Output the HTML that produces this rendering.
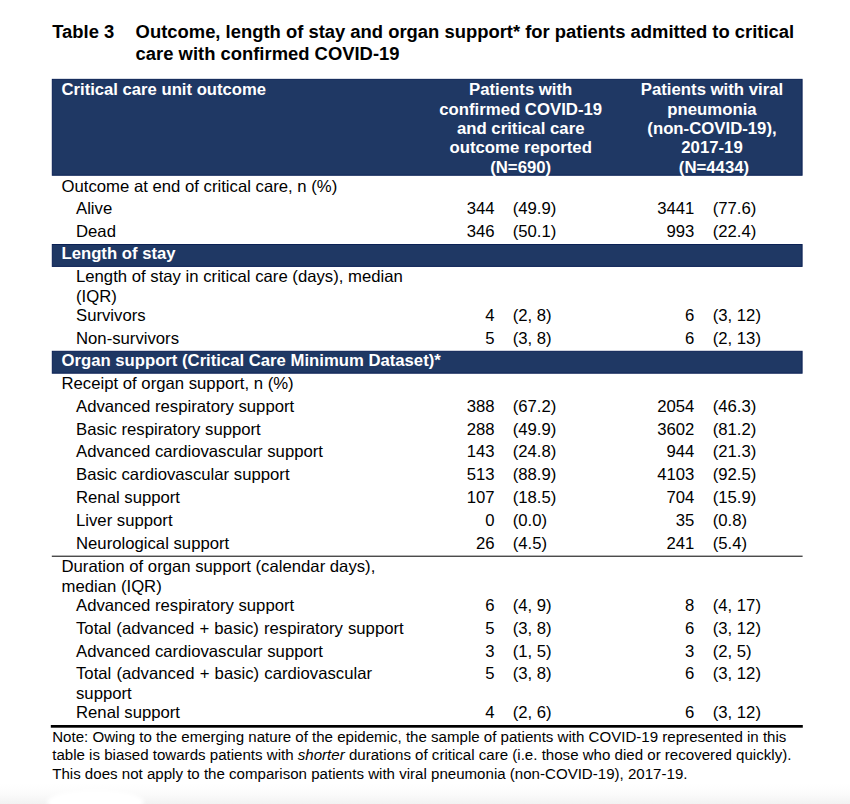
<!DOCTYPE html>
<html><head><meta charset="utf-8"><title>Table 3</title>
<style>
html,body{margin:0;padding:0;background:#fff;}
body{width:850px;height:804px;position:relative;overflow:hidden;font-family:"Liberation Sans",sans-serif;}
.t{position:absolute;white-space:nowrap;line-height:20px;}
.r{position:absolute;}
</style></head><body>
<div class="r" style="left:0;top:784px;width:850px;height:20px;background:linear-gradient(to bottom,#ffffff 0%,#fbfbfb 50%,#f2f2f2 100%)"></div><div class="r" style="left:47px;top:790px;width:97px;height:24px;border-radius:50%;background:#fff;filter:blur(2px)"></div>
<svg class="r" style="left:0;top:0" width="850" height="804" viewBox="0 0 850 804"><rect x="52.30" y="79.35" width="749.80" height="95.90" fill="#1f3864" stroke="#0a2054" stroke-width="1"/><rect x="52.30" y="244.50" width="749.80" height="21.90" fill="#1f3864" stroke="#0a2054" stroke-width="1"/><rect x="52.30" y="351.30" width="749.80" height="21.90" fill="#1f3864" stroke="#0a2054" stroke-width="1"/><rect x="51.8" y="555.7" width="750.8" height="1" fill="#000"/><rect x="50.8" y="725.0" width="752" height="2.7" fill="#000"/></svg>
<div class="t" style="left:52.20px;top:22.00px;font-size:18.42px;color:#000;font-weight:bold;">Table 3</div>
<div class="t" style="left:135.60px;top:22.00px;font-size:18.42px;color:#000;font-weight:bold;">Outcome, length of stay and organ support* for patients admitted to critical</div>
<div class="t" style="left:135.60px;top:44.00px;font-size:18.42px;color:#000;font-weight:bold;">care with confirmed COVID-19</div>
<div class="t" style="left:61.50px;top:80.00px;font-size:16.66px;color:#fff;font-weight:bold;">Critical care unit outcome</div>
<div class="t" style="left:420.70px;top:80.00px;font-size:16.76px;color:#fff;font-weight:bold;text-align:center;width:200px;">Patients with</div>
<div class="t" style="left:420.70px;top:100.00px;font-size:16.76px;color:#fff;font-weight:bold;text-align:center;width:200px;">confirmed COVID-19</div>
<div class="t" style="left:420.70px;top:119.00px;font-size:16.76px;color:#fff;font-weight:bold;text-align:center;width:200px;">and critical care</div>
<div class="t" style="left:420.70px;top:138.00px;font-size:16.76px;color:#fff;font-weight:bold;text-align:center;width:200px;">outcome reported</div>
<div class="t" style="left:420.70px;top:158.00px;font-size:16.76px;color:#fff;font-weight:bold;text-align:center;width:200px;">(N=690)</div>
<div class="t" style="left:612.00px;top:80.00px;font-size:16.76px;color:#fff;font-weight:bold;text-align:center;width:200px;">Patients with viral</div>
<div class="t" style="left:612.00px;top:100.00px;font-size:16.76px;color:#fff;font-weight:bold;text-align:center;width:200px;">pneumonia</div>
<div class="t" style="left:612.00px;top:119.00px;font-size:16.76px;color:#fff;font-weight:bold;text-align:center;width:200px;">(non-COVID-19),</div>
<div class="t" style="left:612.00px;top:138.00px;font-size:16.76px;color:#fff;font-weight:bold;text-align:center;width:200px;">2017-19</div>
<div class="t" style="left:614.00px;top:158.00px;font-size:16.76px;color:#fff;font-weight:bold;text-align:center;width:200px;">(N=4434)</div>
<div class="t" style="left:61.50px;top:244.00px;font-size:16.7px;color:#fff;font-weight:bold;">Length of stay</div>
<div class="t" style="left:61.50px;top:351.00px;font-size:16.71px;color:#fff;font-weight:bold;">Organ support (Critical Care Minimum Dataset)*</div>
<div class="t" style="left:61.50px;top:177.00px;font-size:16.72px;color:#000;">Outcome at end of critical care, n (%)</div>
<div class="t" style="left:76.00px;top:199.00px;font-size:16.72px;color:#000;">Alive</div>
<div class="t" style="left:394.60px;top:199.00px;font-size:16.72px;color:#000;text-align:right;width:100px;">344</div>
<div class="t" style="left:512.70px;top:199.00px;font-size:16.72px;color:#000;">(49.9)</div>
<div class="t" style="left:594.40px;top:199.00px;font-size:16.72px;color:#000;text-align:right;width:100px;">3441</div>
<div class="t" style="left:712.70px;top:199.00px;font-size:16.72px;color:#000;">(77.6)</div>
<div class="t" style="left:76.00px;top:222.00px;font-size:16.72px;color:#000;">Dead</div>
<div class="t" style="left:394.60px;top:222.00px;font-size:16.72px;color:#000;text-align:right;width:100px;">346</div>
<div class="t" style="left:512.70px;top:222.00px;font-size:16.72px;color:#000;">(50.1)</div>
<div class="t" style="left:594.40px;top:222.00px;font-size:16.72px;color:#000;text-align:right;width:100px;">993</div>
<div class="t" style="left:712.70px;top:222.00px;font-size:16.72px;color:#000;">(22.4)</div>
<div class="t" style="left:76.00px;top:267.00px;font-size:16.72px;color:#000;">Length of stay in critical care (days), median</div>
<div class="t" style="left:76.00px;top:287.00px;font-size:16.72px;color:#000;">(IQR)</div>
<div class="t" style="left:76.00px;top:306.00px;font-size:16.72px;color:#000;">Survivors</div>
<div class="t" style="left:394.60px;top:306.00px;font-size:16.72px;color:#000;text-align:right;width:100px;">4</div>
<div class="t" style="left:512.70px;top:306.00px;font-size:16.72px;color:#000;">(2, 8)</div>
<div class="t" style="left:594.40px;top:306.00px;font-size:16.72px;color:#000;text-align:right;width:100px;">6</div>
<div class="t" style="left:712.70px;top:306.00px;font-size:16.72px;color:#000;">(3, 12)</div>
<div class="t" style="left:76.00px;top:329.00px;font-size:16.72px;color:#000;">Non-survivors</div>
<div class="t" style="left:394.60px;top:329.00px;font-size:16.72px;color:#000;text-align:right;width:100px;">5</div>
<div class="t" style="left:512.70px;top:329.00px;font-size:16.72px;color:#000;">(3, 8)</div>
<div class="t" style="left:594.40px;top:329.00px;font-size:16.72px;color:#000;text-align:right;width:100px;">6</div>
<div class="t" style="left:712.70px;top:329.00px;font-size:16.72px;color:#000;">(2, 13)</div>
<div class="t" style="left:61.50px;top:374.00px;font-size:16.72px;color:#000;">Receipt of organ support, n (%)</div>
<div class="t" style="left:76.00px;top:397.00px;font-size:16.72px;color:#000;">Advanced respiratory support</div>
<div class="t" style="left:394.60px;top:397.00px;font-size:16.72px;color:#000;text-align:right;width:100px;">388</div>
<div class="t" style="left:512.70px;top:397.00px;font-size:16.72px;color:#000;">(67.2)</div>
<div class="t" style="left:594.40px;top:397.00px;font-size:16.72px;color:#000;text-align:right;width:100px;">2054</div>
<div class="t" style="left:712.70px;top:397.00px;font-size:16.72px;color:#000;">(46.3)</div>
<div class="t" style="left:76.00px;top:420.00px;font-size:16.72px;color:#000;">Basic respiratory support</div>
<div class="t" style="left:394.60px;top:420.00px;font-size:16.72px;color:#000;text-align:right;width:100px;">288</div>
<div class="t" style="left:512.70px;top:420.00px;font-size:16.72px;color:#000;">(49.9)</div>
<div class="t" style="left:594.40px;top:420.00px;font-size:16.72px;color:#000;text-align:right;width:100px;">3602</div>
<div class="t" style="left:712.70px;top:420.00px;font-size:16.72px;color:#000;">(81.2)</div>
<div class="t" style="left:76.00px;top:442.00px;font-size:16.72px;color:#000;">Advanced cardiovascular support</div>
<div class="t" style="left:394.60px;top:442.00px;font-size:16.72px;color:#000;text-align:right;width:100px;">143</div>
<div class="t" style="left:512.70px;top:442.00px;font-size:16.72px;color:#000;">(24.8)</div>
<div class="t" style="left:594.40px;top:442.00px;font-size:16.72px;color:#000;text-align:right;width:100px;">944</div>
<div class="t" style="left:712.70px;top:442.00px;font-size:16.72px;color:#000;">(21.3)</div>
<div class="t" style="left:76.00px;top:465.00px;font-size:16.72px;color:#000;">Basic cardiovascular support</div>
<div class="t" style="left:394.60px;top:465.00px;font-size:16.72px;color:#000;text-align:right;width:100px;">513</div>
<div class="t" style="left:512.70px;top:465.00px;font-size:16.72px;color:#000;">(88.9)</div>
<div class="t" style="left:594.40px;top:465.00px;font-size:16.72px;color:#000;text-align:right;width:100px;">4103</div>
<div class="t" style="left:712.70px;top:465.00px;font-size:16.72px;color:#000;">(92.5)</div>
<div class="t" style="left:76.00px;top:488.00px;font-size:16.72px;color:#000;">Renal support</div>
<div class="t" style="left:394.60px;top:488.00px;font-size:16.72px;color:#000;text-align:right;width:100px;">107</div>
<div class="t" style="left:512.70px;top:488.00px;font-size:16.72px;color:#000;">(18.5)</div>
<div class="t" style="left:594.40px;top:488.00px;font-size:16.72px;color:#000;text-align:right;width:100px;">704</div>
<div class="t" style="left:712.70px;top:488.00px;font-size:16.72px;color:#000;">(15.9)</div>
<div class="t" style="left:76.00px;top:511.00px;font-size:16.72px;color:#000;">Liver support</div>
<div class="t" style="left:394.60px;top:511.00px;font-size:16.72px;color:#000;text-align:right;width:100px;">0</div>
<div class="t" style="left:512.70px;top:511.00px;font-size:16.72px;color:#000;">(0.0)</div>
<div class="t" style="left:594.40px;top:511.00px;font-size:16.72px;color:#000;text-align:right;width:100px;">35</div>
<div class="t" style="left:712.70px;top:511.00px;font-size:16.72px;color:#000;">(0.8)</div>
<div class="t" style="left:76.00px;top:534.00px;font-size:16.72px;color:#000;">Neurological support</div>
<div class="t" style="left:394.60px;top:534.00px;font-size:16.72px;color:#000;text-align:right;width:100px;">26</div>
<div class="t" style="left:512.70px;top:534.00px;font-size:16.72px;color:#000;">(4.5)</div>
<div class="t" style="left:594.40px;top:534.00px;font-size:16.72px;color:#000;text-align:right;width:100px;">241</div>
<div class="t" style="left:712.70px;top:534.00px;font-size:16.72px;color:#000;">(5.4)</div>
<div class="t" style="left:61.50px;top:557.00px;font-size:16.72px;color:#000;">Duration of organ support (calendar days),</div>
<div class="t" style="left:61.50px;top:577.00px;font-size:16.72px;color:#000;">median (IQR)</div>
<div class="t" style="left:76.00px;top:596.00px;font-size:16.72px;color:#000;">Advanced respiratory support</div>
<div class="t" style="left:394.60px;top:596.00px;font-size:16.72px;color:#000;text-align:right;width:100px;">6</div>
<div class="t" style="left:512.70px;top:596.00px;font-size:16.72px;color:#000;">(4, 9)</div>
<div class="t" style="left:594.40px;top:596.00px;font-size:16.72px;color:#000;text-align:right;width:100px;">8</div>
<div class="t" style="left:712.70px;top:596.00px;font-size:16.72px;color:#000;">(4, 17)</div>
<div class="t" style="left:76.00px;top:619.00px;font-size:16.72px;color:#000;"><span style='word-spacing:0.45px'>Total (advanced + basic) respiratory support</span></div>
<div class="t" style="left:394.60px;top:619.00px;font-size:16.72px;color:#000;text-align:right;width:100px;">5</div>
<div class="t" style="left:512.70px;top:619.00px;font-size:16.72px;color:#000;">(3, 8)</div>
<div class="t" style="left:594.40px;top:619.00px;font-size:16.72px;color:#000;text-align:right;width:100px;">6</div>
<div class="t" style="left:712.70px;top:619.00px;font-size:16.72px;color:#000;">(3, 12)</div>
<div class="t" style="left:76.00px;top:642.00px;font-size:16.72px;color:#000;">Advanced cardiovascular support</div>
<div class="t" style="left:394.60px;top:642.00px;font-size:16.72px;color:#000;text-align:right;width:100px;">3</div>
<div class="t" style="left:512.70px;top:642.00px;font-size:16.72px;color:#000;">(1, 5)</div>
<div class="t" style="left:594.40px;top:642.00px;font-size:16.72px;color:#000;text-align:right;width:100px;">3</div>
<div class="t" style="left:712.70px;top:642.00px;font-size:16.72px;color:#000;">(2, 5)</div>
<div class="t" style="left:76.00px;top:664.00px;font-size:16.72px;color:#000;"><span style='word-spacing:0.55px'>Total (advanced + basic) cardiovascular</span></div>
<div class="t" style="left:394.60px;top:664.00px;font-size:16.72px;color:#000;text-align:right;width:100px;">5</div>
<div class="t" style="left:512.70px;top:664.00px;font-size:16.72px;color:#000;">(3, 8)</div>
<div class="t" style="left:594.40px;top:664.00px;font-size:16.72px;color:#000;text-align:right;width:100px;">6</div>
<div class="t" style="left:712.70px;top:664.00px;font-size:16.72px;color:#000;">(3, 12)</div>
<div class="t" style="left:76.00px;top:684.00px;font-size:16.72px;color:#000;">support</div>
<div class="t" style="left:76.00px;top:703.00px;font-size:16.72px;color:#000;">Renal support</div>
<div class="t" style="left:394.60px;top:703.00px;font-size:16.72px;color:#000;text-align:right;width:100px;">4</div>
<div class="t" style="left:512.70px;top:703.00px;font-size:16.72px;color:#000;">(2, 6)</div>
<div class="t" style="left:594.40px;top:703.00px;font-size:16.72px;color:#000;text-align:right;width:100px;">6</div>
<div class="t" style="left:712.70px;top:703.00px;font-size:16.72px;color:#000;">(3, 12)</div>
<div class="t" style="left:52.20px;top:727.00px;font-size:15.08px;color:#000;">Note: Owing to the emerging nature of the epidemic, the sample of patients with COVID-19 represented in this</div>
<div class="t" style="left:52.20px;top:745.00px;font-size:15.08px;color:#000;">table is biased towards patients with <i>shorter</i> durations of critical care (i.e. those who died or recovered quickly).</div>
<div class="t" style="left:52.20px;top:764.00px;font-size:15.08px;color:#000;">This does not apply to the comparison patients with viral pneumonia (non-COVID-19), 2017-19.</div>
</body></html>
